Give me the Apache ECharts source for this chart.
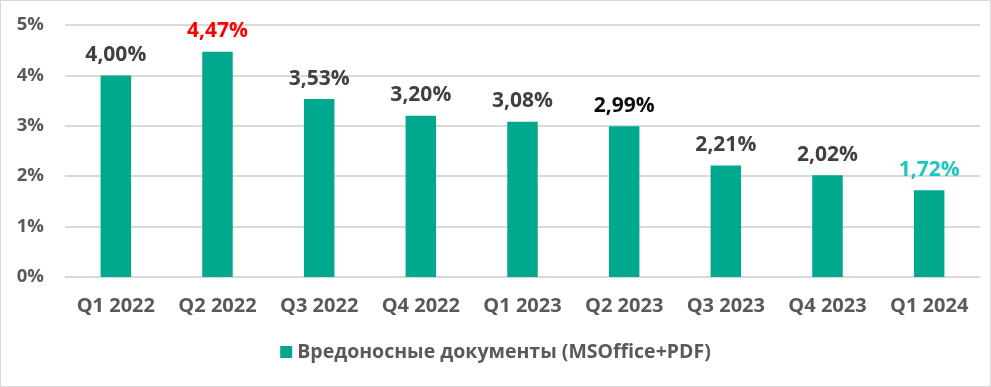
<!DOCTYPE html>
<html><head><meta charset="utf-8">
<script src="https://cdn.jsdelivr.net/npm/echarts@6/dist/echarts.min.js"></script>
<style>html,body{margin:0;padding:0;background:#fff}#c{width:991px;height:387px;box-sizing:border-box;border:1px solid #d9d9d9}</style>
</head><body><div id="c"></div>
<script>
const categories = ['Q1 2022','Q2 2022','Q3 2022','Q4 2022','Q1 2023','Q2 2023','Q3 2023','Q4 2023','Q1 2024'];
const values = [4.00, 4.47, 3.53, 3.20, 3.08, 2.99, 2.21, 2.02, 1.72];
const seriesName = 'Вредоносные документы (MSOffice+PDF)';
const labelColors = ['#404040','#FF0000','#404040','#404040','#404040','#0D0D0D','#404040','#404040','#1CC8C0'];
const FONT = 'Open Sans, Liberation Sans, sans-serif';
const chart = echarts.init(document.getElementById('c'));
chart.setOption({
  animation: false,
  grid: {left: 64, right: 10, top: 24, bottom: 109},
  legend: {
    bottom: 19, left: 'center', itemWidth: 12, itemHeight: 12, itemGap: 6,
    icon: 'rect',
    textStyle: {fontFamily: FONT, fontSize: 19.5, fontWeight: 'bold', color: '#595959'},
    data: [seriesName]
  },
  xAxis: {
    type: 'category', data: categories,
    axisLine: {show: true, lineStyle: {color: '#d9d9d9'}},
    axisTick: {show: false},
    axisLabel: {interval: 0, fontFamily: FONT, fontSize: 20, fontWeight: 'bold', color: '#595959', margin: 19}
  },
  yAxis: {
    type: 'value', min: 0, max: 5, interval: 1,
    axisLine: {show: false}, axisTick: {show: false},
    axisLabel: {formatter: '{value}%', fontFamily: FONT, fontSize: 18.5, fontWeight: 'bold', color: '#595959', margin: 21},
    splitLine: {lineStyle: {color: '#d9d9d9', width: 2}}
  },
  series: [{
    name: seriesName, type: 'bar', barWidth: '30%',
    itemStyle: {color: '#00A88E'},
    data: values.map((v, i) => ({value: v, label: {color: labelColors[i]}})),
    label: {
      show: true, position: 'top', distance: 10,
      fontFamily: FONT, fontSize: 21, fontWeight: 'bold',
      formatter: p => p.value.toFixed(2).replace('.', ',') + '%'
    }
  }]
});
</script></body></html>
